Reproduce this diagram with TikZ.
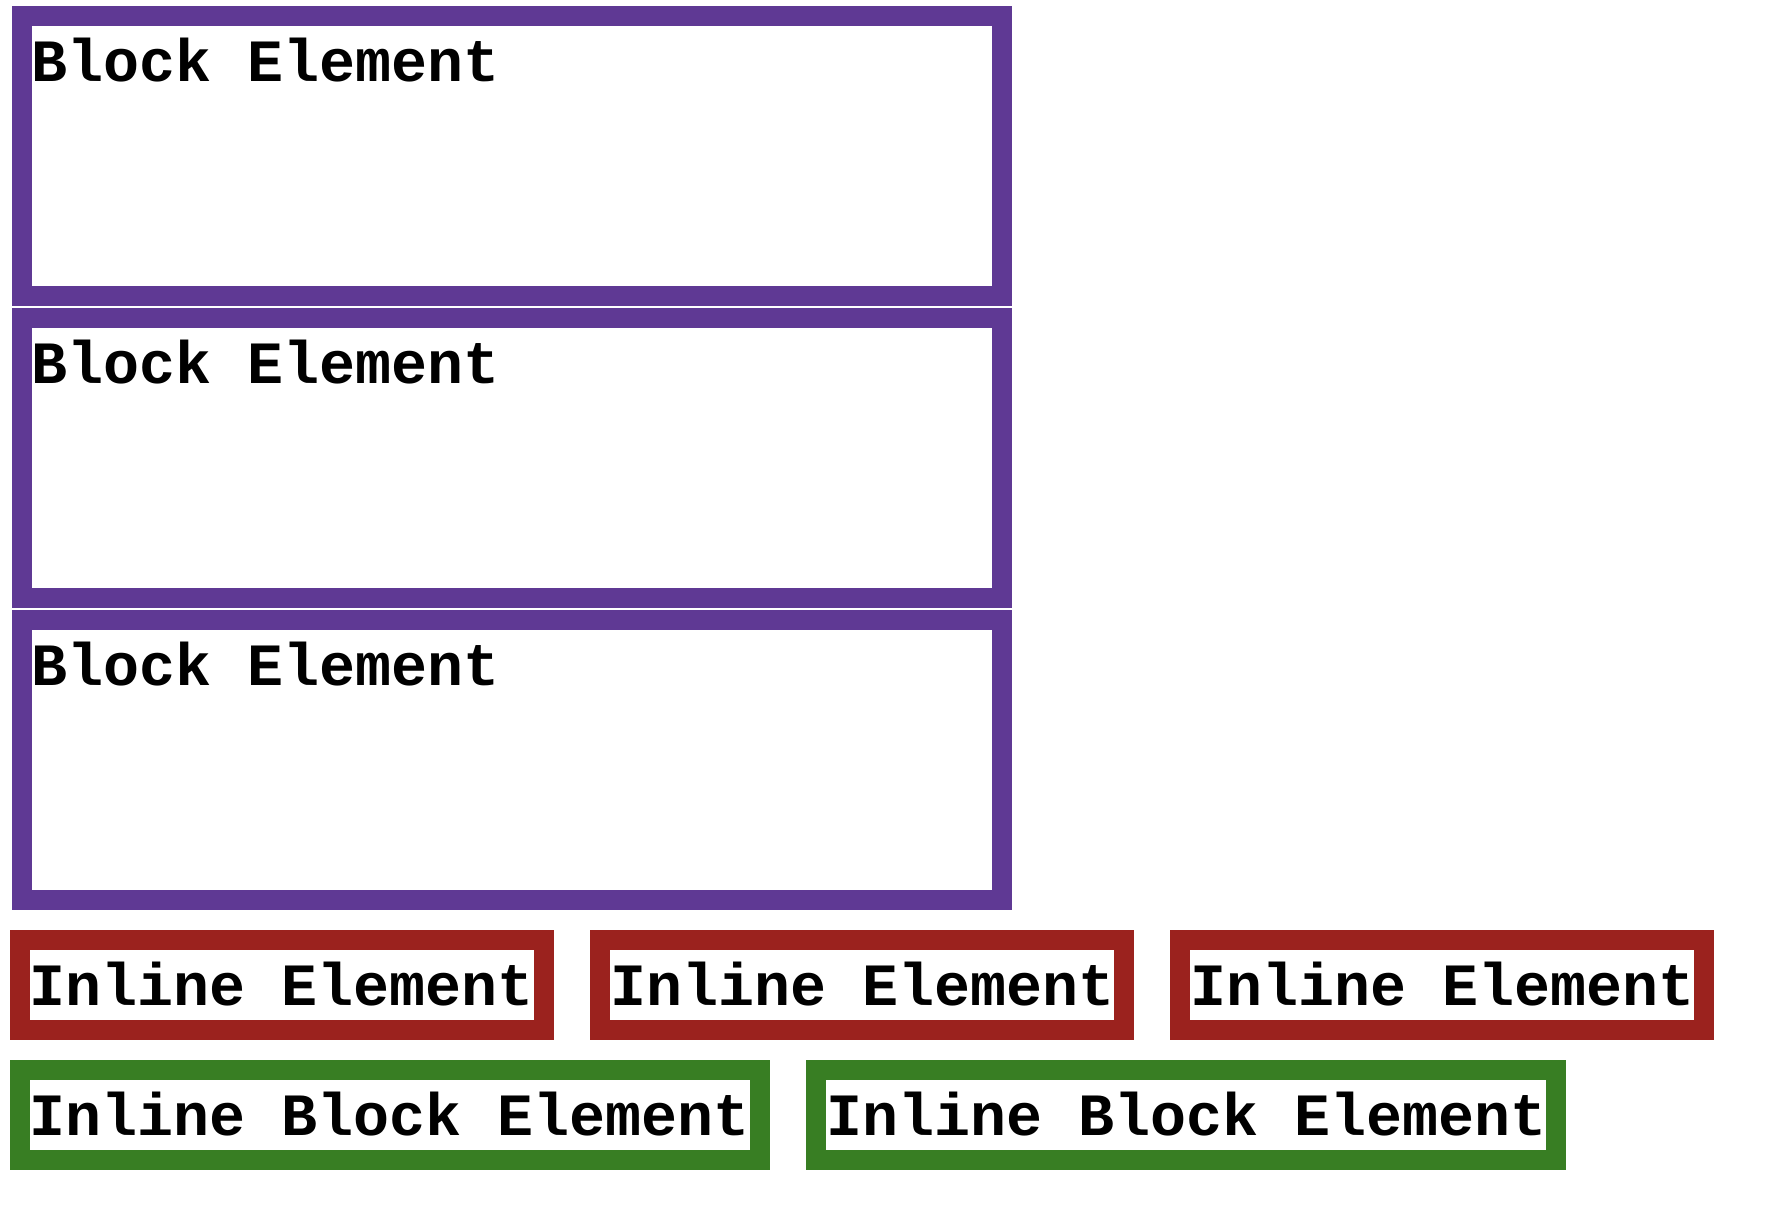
\documentclass[tikz,border=0pt]{standalone}
\usepackage{fontspec}
\newfontfamily\boxfont[WordSpace={1,0,0}]{Liberation Mono}
\usetikzlibrary{positioning}
\definecolor{blockpurple}{RGB}{95,57,148}
\definecolor{inlinered}{RGB}{155,34,30}
\definecolor{inblockgreen}{RGB}{56,126,35}
\begin{document}
\begin{tikzpicture}[x=1pt, y=-1pt,
  elem/.style={draw, line width=10pt, inner sep=5pt, anchor=north west,
    font=\boxfont\bfseries\fontsize{30}{35}\selectfont,
    text height=27.5pt, text depth=7.5pt},
  blockel/.style={elem, draw=blockpurple, text width=480pt, align=left, text depth=102.5pt},
  inlineel/.style={elem, draw=inlinered},
  inblockel/.style={elem, draw=inblockgreen}]
\useasboundingbox (0,0) rectangle (895,608);
\node[blockel] (block1) at (6,3) {\spaceskip=0pt Block Element};
\node[blockel, below=1pt of block1.south west, anchor=north west] (block2) {\spaceskip=0pt Block Element};
\node[blockel, below=1pt of block2.south west, anchor=north west] (block3) {\spaceskip=0pt Block Element};
\node[inlineel] (inline1) at (5,465) {Inline Element};
\node[inlineel, right=18pt of inline1.north east, anchor=north west] (inline2) {Inline Element};
\node[inlineel, right=18pt of inline2.north east, anchor=north west] (inline3) {Inline Element};
\node[inblockel] (inblock1) at (5,530) {Inline Block Element};
\node[inblockel, right=18pt of inblock1.north east, anchor=north west] (inblock2) {Inline Block Element};
\end{tikzpicture}
\end{document}
